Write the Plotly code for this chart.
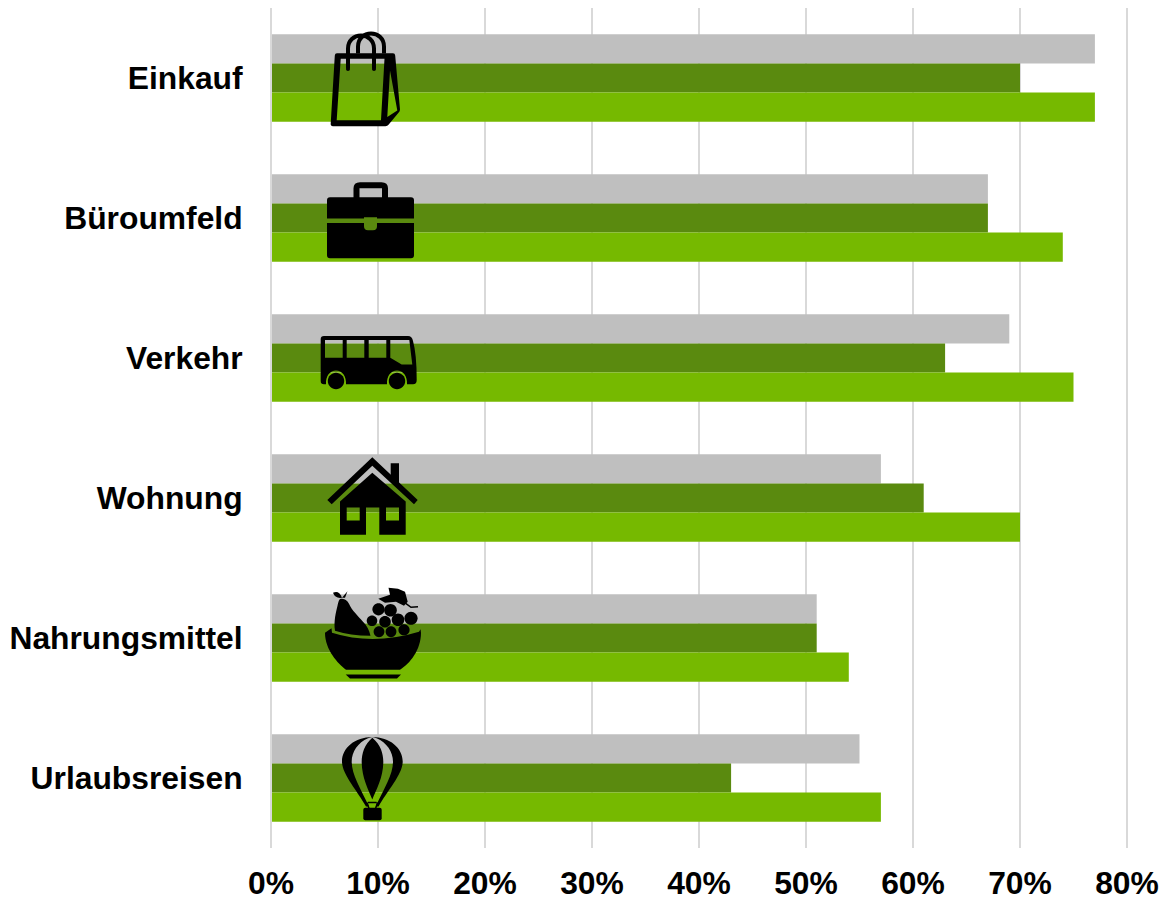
import re
import plotly.graph_objects as go

categories = ["Einkauf", "Büroumfeld", "Verkehr", "Wohnung", "Nahrungsmittel", "Urlaubsreisen"]
grey_values = [77, 67, 69, 57, 51, 55]
dark_values = [70, 67, 63, 61, 51, 43]
light_values = [77, 74, 75, 70, 54, 57]
x_ticks = [0, 10, 20, 30, 40, 50, 60, 70, 80]
x_labels = ["0%", "10%", "20%", "30%", "40%", "50%", "60%", "70%", "80%"]

W, H = 1162, 900
L, R, T, B = 271, 1127, 7.5, 848.5
FONT = "Liberation Sans, Arial, sans-serif"
GRID = "#d9d9d9"


def to_paper(path):
    """Icon outlines are drawn in page pixels; convert them to paper coordinates."""
    X = lambda v: (float(v) - L) / (R - L)
    Y = lambda v: (B - float(v)) / (B - T)
    out = []
    for cmd, args in re.findall(r"([MLHVQCZ])([^MLHVQCZ]*)", path):
        nums = re.findall(r"-?\d+\.?\d*", args)
        if cmd == "Z":
            out.append("Z")
        else:
            pts = ["%.5f,%.5f" % (X(nums[i]), Y(nums[i + 1])) for i in range(0, len(nums), 2)]
            out.append(cmd + " ".join(pts))
    return " ".join(out)


def fill(path):
    return dict(type="path", xref="paper", yref="paper", path=to_paper(path),
                fillcolor="#000000", line=dict(width=0), layer="above")


def stroke(path, w):
    return dict(type="path", xref="paper", yref="paper", path=to_paper(path),
                fillcolor="rgba(0,0,0,0)", line=dict(color="#000000", width=w), layer="above")


def circle(cx, cy, r):
    k = 0.5523 * r
    return fill(f"M{cx-r},{cy} C{cx-r},{cy-k} {cx-k},{cy-r} {cx},{cy-r} C{cx+k},{cy-r} {cx+r},{cy-k} {cx+r},{cy} "
                f"C{cx+r},{cy+k} {cx+k},{cy+r} {cx},{cy+r} C{cx-k},{cy+r} {cx-r},{cy+k} {cx-r},{cy} Z")


# gridlines at the two ends of the axis, which plotly leaves out
edge_lines = [
    dict(type="line", xref="paper", yref="paper", x0=1, x1=1, y0=0, y1=1,
         line=dict(color=GRID, width=2), layer="below"),
    dict(type="line", xref="paper", yref="paper", x0=0, x1=0, y0=0, y1=1,
         line=dict(color=GRID, width=2), layer="above"),
]

icons = []
# shopping bag
icons += [
    fill("M337,52.7 L393,52.7 Q395,52.7 395.2,55 L400,109 Q400,111 398.5,112.5 L388.5,124.5 Q387.5,126 385.5,126 "
         "L333,126 Q330.5,126 330.7,123.5 L334.8,55 Q335,52.7 337,52.7 Z "
         "M340.7,58.3 L384.5,58.3 L381,120 L336.7,120 Z "
         "M390,70 L387.3,116.7 L397.3,110 Z"),
    stroke("M348,68 L348,48 C348,40 354,35 361,35 C368,35 374,40 374,48 L374,68", 4),
    stroke("M358,53 L358,46 C358,38 364,33 371,33 C378,33 384,38 384,46 L384,53", 4),
    circle(348, 68.5, 2),
    circle(374, 68.5, 2),
]
# briefcase
icons += [
    fill("M330,197 L411,197 Q414,197 414,200 L414,218.3 L377,218.3 L377,217 L364,217 L364,218.3 L327,218.3 L327,200 Q327,197 330,197 Z"),
    fill("M327,222.7 L364,222.7 L364,226 Q364,230 368,230 L373,230 Q377,230 377,226 L377,222.7 L414,222.7 L414,255 Q414,258 411,258 L330,258 Q327,258 327,255 Z"),
    stroke("M356.5,198 L356.5,188 Q356.5,185 360,185 L381.5,185 Q385,185 385,188 L385,198", 6),
]
# bus
icons += [
    fill("M324,336 L408,336 Q412,336 413,341 Q416.7,354 416.7,380 Q416.7,384.3 413,384.3 L407,384.3 "
         "C407.5,376 403,370.5 397,370.5 C391,370.5 386.5,376 387,384.3 L346,384.3 "
         "C346.5,376 342,370.5 336,370.5 C330,370.5 325.5,376 326,384.3 L324,384.3 "
         "Q320.7,384.3 320.7,381 L320.7,339 Q320.7,336 324,336 Z "
         "M325,340 L342.7,340 L342.7,357.7 L325,357.7 Z "
         "M346.7,340 L364.3,340 L364.3,357.7 L346.7,357.7 Z "
         "M368.7,340 L386.3,340 L386.3,357.7 L368.7,357.7 Z "
         "M390.3,340 L409.3,340 L412.3,364.3 L401.7,364.3 L390.3,357.7 Z"),
    circle(336, 381, 8.2),
    circle(397, 381, 8.2),
]
# house
icons += [
    fill("M372.3,457.3 L417.7,500 L414,504.3 L372.3,465.7 L331.7,504.3 L327.3,500 Z"),
    fill("M390.7,463.3 L399,463.3 L399,485 L390.7,477 Z"),
    fill("M372.3,472.7 L405.7,501.7 L405.7,535 L379.3,535 L379.3,507.7 L366,507.7 L366,535 L340,535 L340,501.7 Z "
         "M346.7,507.7 L359.7,507.7 L359.7,520.7 L346.7,520.7 Z "
         "M386,507.7 L399,507.7 L399,520.7 L386,520.7 Z"),
]
# fruit bowl
icons += [
    fill("M325,633 L331.5,628.5 L332,633 Q373,646 419,632 L420.5,629.5 L421,633 "
         "C421,650 410,664 400,670 L346,670 C338,664 325,650 325,633 Z"),
    fill("M345.7,674.7 L401,674.7 L397,678.7 L350,678.7 Z"),
    fill("M341,599 C344,599 347,600 349,604 C352,611 358,616 363,622 C367,626 369,630 370.5,636 "
         "Q350,636 335,631 C333.5,622 336,612 337.5,606 C338.5,602 339,599 341,599 Z"),
    fill("M333,593 Q339,590 342,598 Q335,599 333,593 Z"),
    fill("M342,598 L347.5,591.5 L345,598 Z"),
    fill("M378.3,599 L390,595 L388.5,588 L398,589 L405,592 L407.7,602 L404,606 L396,602 L385,603 Z"),
    stroke("M405,603 L411,607.5 L418,607", 1.5),
]
for cx, cy, r in [(378.5, 609.5, 6.1), (390.5, 610.5, 6.3), (411, 618.5, 6.6), (398, 620, 6.3),
                  (385, 622, 5.8), (372, 621, 5.3), (379, 632, 5.4), (391, 632, 5.4), (404, 630, 5.6)]:
    icons.append(circle(cx, cy, r))
# hot-air balloon
icons += [
    fill("M372.3,738 C364,745 361.5,755 361.7,763 C362,778 368,790 372.3,800 C376.5,790 383,778 383.3,763 C383.5,755 381,745 372.3,738 Z"),
    fill("M372.3,737.3 C355,737.5 342,748 342,762 C342,775 358,792 366,807 L369,807 C360,788 351.7,775 351.7,762 C351.7,752 358,743 368,738.6 Z"),
    fill("M372.3,737.3 C389.6,737.5 402.7,748 402.7,762 C402.7,775 386.6,792 378.6,807 L375.6,807 C384.6,788 393,775 393,762 C393,752 386.6,743 376.6,738.6 Z"),
    stroke("M367,803 L369,809 M377.6,803 L375.6,809 M368,803 L376.6,803", 1.5),
    fill("M365.3,808.3 L379.7,808.3 Q381.7,808.3 381.7,810.3 L381.7,818.7 Q381.7,820.7 379.7,820.7 L365.3,820.7 Q363.3,820.7 363.3,818.7 L363.3,810.3 Q363.3,808.3 365.3,808.3 Z"),
]

fig = go.Figure()
for values, color in [(grey_values, "#bfbfbf"), (dark_values, "#5a8a0f"), (light_values, "#76b900")]:
    fig.add_trace(go.Bar(y=categories, x=values, orientation="h", marker=dict(color=color, line=dict(width=0))))

fig.update_layout(
    width=W, height=H, autosize=False,
    margin=dict(l=L, r=W - R, t=T, b=H - B, pad=0),
    paper_bgcolor="#ffffff", plot_bgcolor="#ffffff",
    showlegend=False, barmode="group", bargap=0.375, bargroupgap=0,
    font=dict(family=FONT, color="#000000"),
    shapes=edge_lines + icons,
)
fig.update_xaxes(range=[0, 80], tickvals=x_ticks, ticktext=x_labels, showgrid=True,
                 gridcolor=GRID, gridwidth=2, zeroline=False, showline=False,
                 ticks="outside", ticklen=7, tickcolor="#ffffff",
                 tickfont=dict(family=FONT, size=31.8, color="#000000", weight=700),
                 automargin=False)
fig.update_yaxes(autorange="reversed", showgrid=False, zeroline=False, showline=False,
                 ticks="outside", ticklen=21, tickcolor="#ffffff",
                 tickfont=dict(family=FONT, size=31.8, color="#000000", weight=700),
                 automargin=False)
fig.write_html("out.html", post_script="document.body.style.margin='0';",
               config=dict(displayModeBar=False))
